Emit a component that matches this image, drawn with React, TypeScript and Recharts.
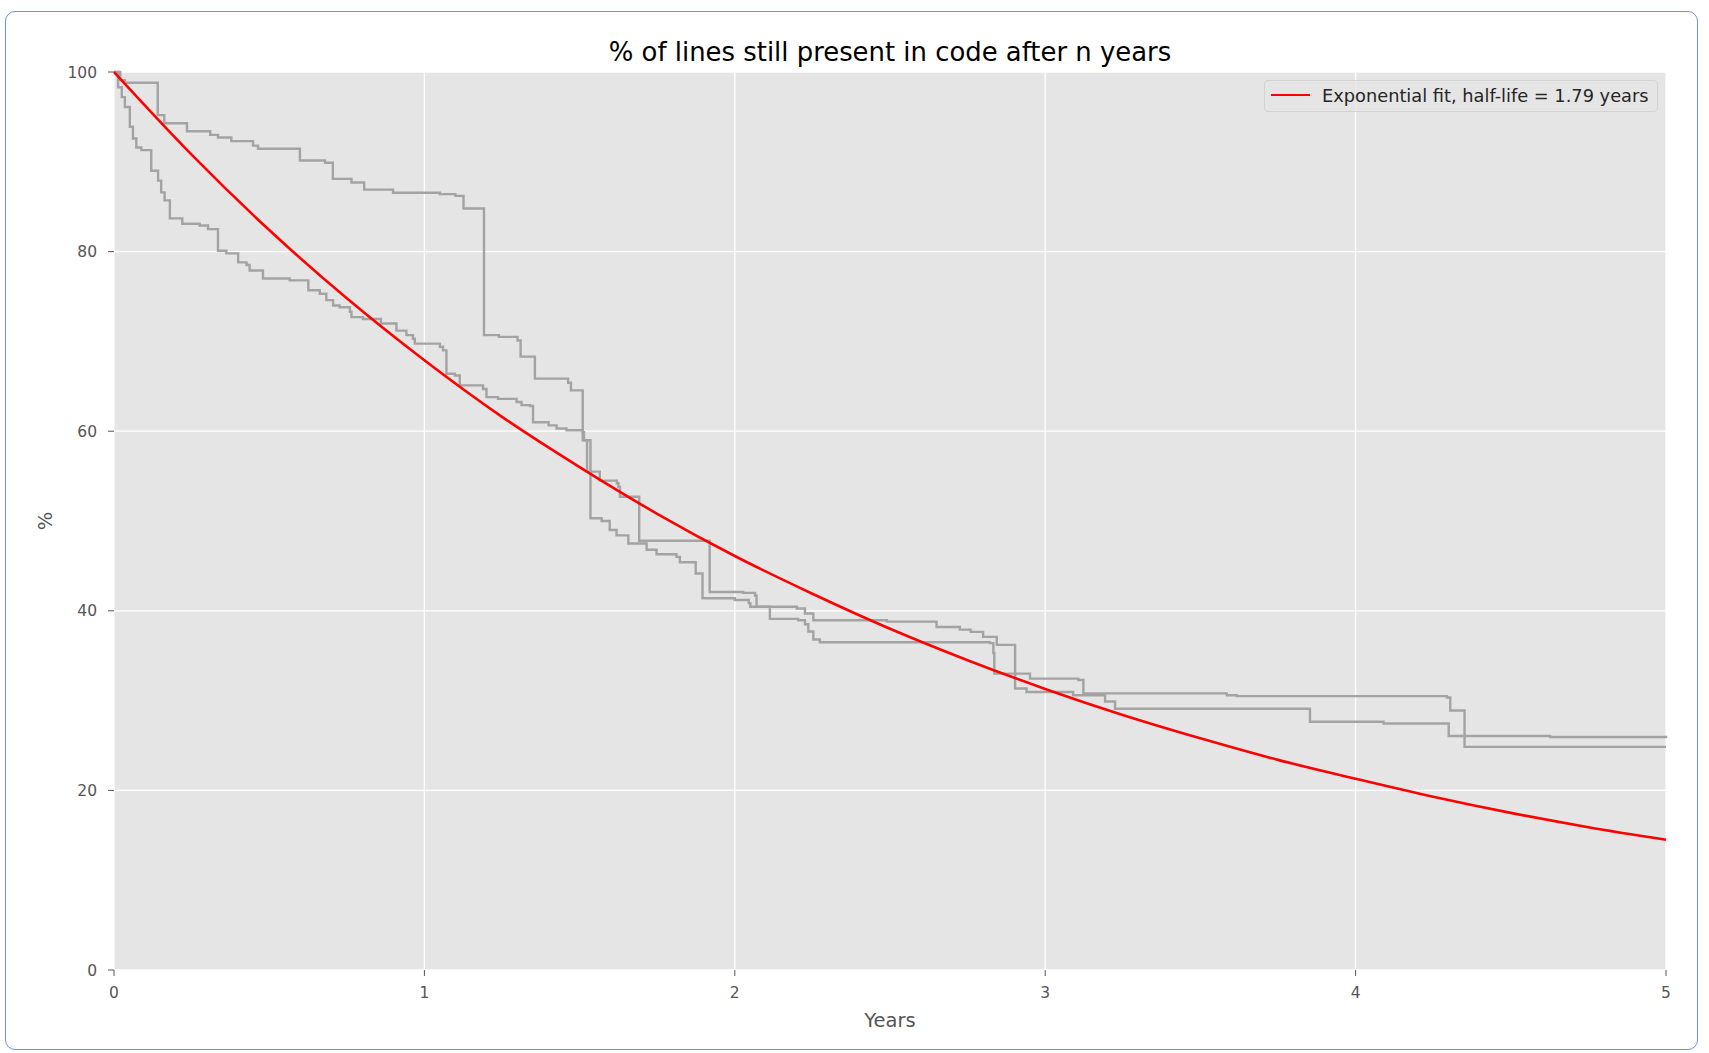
import React from 'react';
import { LineChart, Line, XAxis, YAxis, CartesianGrid, Legend, Label } from 'recharts';

const FONT = '"DejaVu Sans", sans-serif';

const xTicks = [0, 1, 2, 3, 4, 5];
const yTicks = [0, 20, 40, 60, 80, 100];

// first project: years since commit -> % of lines still there
const repoAYears = [
  0, 0.02, 0.035, 0.141, 0.162, 0.235, 0.31, 0.335, 0.378, 0.448, 0.464, 0.599, 0.68, 0.705, 0.765,
  0.806, 0.899, 1.05, 1.1, 1.126, 1.192, 1.24, 1.3, 1.31, 1.356, 1.463, 1.472, 1.51, 1.524, 1.565,
  1.62, 1.625, 1.63, 1.692, 1.919, 2.027, 2.065, 2.07, 2.2, 2.226, 2.253, 2.49, 2.65, 2.725, 2.76,
  2.8, 2.844, 2.903, 2.94, 3.09, 3.193, 3.225, 3.853, 4.09, 4.3, 4.627, 5.0,
];
const repoAPct = [
  100, 99.1, 98.8, 95.2, 94.3, 93.4, 93.0, 92.7, 92.3, 91.8, 91.45, 90.15, 89.9, 88.1, 87.7,
  86.9, 86.55, 86.4, 86.2, 84.8, 70.7, 70.5, 70.1, 68.3, 65.85, 65.4, 64.55, 59.0, 55.5, 54.5,
  54.2, 53.8, 52.7, 47.8, 42.1, 42.0, 41.7, 40.45, 40.25, 39.7, 38.95, 38.8, 38.2, 37.9, 37.65,
  37.1, 36.2, 31.35, 30.95, 30.6, 29.9, 29.1, 27.65, 27.45, 26.05, 25.95, 25.8,
];

// second project
const repoBYears = [
  0, 0.013, 0.025, 0.035, 0.051, 0.061, 0.072, 0.088, 0.12, 0.142, 0.152, 0.163, 0.18, 0.22, 0.276,
  0.303, 0.335, 0.362, 0.4, 0.427, 0.437, 0.48, 0.566, 0.626, 0.663, 0.684, 0.706, 0.727, 0.76, 0.765,
  0.802, 0.86, 0.91, 0.942, 0.963, 0.969, 1.05, 1.06, 1.071, 1.098, 1.114, 1.189, 1.2, 1.237, 1.297,
  1.313, 1.34, 1.35, 1.4, 1.426, 1.458, 1.51, 1.514, 1.535, 1.571, 1.597, 1.619, 1.657, 1.716, 1.748,
  1.812, 1.823, 1.874, 1.896, 2.0, 2.045, 2.05, 2.113, 2.204, 2.226, 2.237, 2.253, 2.274, 2.822, 2.833,
  2.836, 2.951, 3.107, 3.123, 3.585, 3.617, 4.294, 4.305, 4.351, 5.0,
];
const repoBPct = [
  100, 98.3, 97.2, 96.1, 93.9, 92.6, 91.6, 91.3, 89.0, 87.9, 86.6, 85.7, 83.7, 83.1, 82.9,
  82.5, 80.1, 79.8, 78.8, 78.5, 77.9, 77.0, 76.8, 75.7, 75.3, 74.6, 74.0, 73.8, 73.3, 72.7,
  72.5, 72.0, 71.2, 70.7, 70.3, 69.75, 69.4, 69.0, 66.4, 66.2, 65.1, 64.7, 63.8, 63.6, 63.25,
  62.9, 62.8, 61.0, 60.65, 60.3, 60.1, 59.9, 59.0, 50.3, 50.0, 49.0, 48.4, 47.5, 46.8, 46.3,
  46.0, 45.4, 44.15, 41.4, 41.2, 40.85, 40.45, 39.1, 38.95, 38.5, 37.7, 36.8, 36.5, 36.4, 35.3,
  33.0, 32.45, 32.3, 30.8, 30.6, 30.5, 30.35, 28.9, 24.85, 24.85,
];

// red fitted curve, every quarter year
const fitYears = [0, 0.25, 0.5, 0.75, 1, 1.25, 1.5, 1.75, 2, 2.25, 2.5, 2.75, 3, 3.25, 3.5, 3.75, 4, 4.25, 4.5, 4.75, 5];
const fitPct = [100, 90.8, 82.4, 74.8, 67.9, 61.6, 56.0, 50.8, 46.1, 41.9, 38.0, 34.5, 31.3, 28.4, 25.8, 23.4, 21.3, 19.3, 17.5, 15.9, 14.5];

const fitLabel = 'Exponential fit, half-life = 1.79 years';

const zip = (years: number[], pct: number[]) => years.map((y, i) => ({ years: y, pct: pct[i] }));

const seriesA = zip(repoAYears, repoAPct);
const seriesB = zip(repoBYears, repoBPct);
const fitSeries = zip(fitYears, fitPct);

function FitLegend() {
  return (
    <div
      style={{
        width: 394,
        height: 32,
        boxSizing: 'border-box',
        border: '1px solid #d2d2d2',
        borderRadius: 4,
        background: 'rgba(229,229,229,0.8)',
        display: 'flex',
        alignItems: 'center',
        fontFamily: FONT,
        fontSize: 17.8,
        color: '#262626',
        whiteSpace: 'nowrap',
        paddingBottom: 2,
      }}
    >
      <span style={{ display: 'inline-block', width: 39, borderTop: '2.5px solid #ff0000', margin: '0 12px 0 6px' }} />
      <span>{fitLabel}</span>
    </div>
  );
}

export default function App() {
  return (
    <div style={{ position: 'absolute', left: 0, top: 0, width: 1709, height: 1053, background: '#fff', fontFamily: FONT }}>
      <div
        style={{
          position: 'absolute', left: 5, top: 11, width: 1693, height: 1039,
          border: '1.5px solid #7096d2', borderRadius: 10, boxSizing: 'border-box',
        }}
      />
      <div
        style={{
          position: 'absolute', left: 114, width: 1552, top: 37, textAlign: 'center',
          fontSize: 25.9, lineHeight: '30px', color: '#000',
        }}
      >
        % of lines still present in code after n years
      </div>
      <div style={{ position: 'absolute', left: 0, top: 0 }}>
        <LineChart width={1709} height={1053} margin={{ top: 72, right: 43, bottom: 23, left: 54 }}>
          <CartesianGrid fill="#e5e5e5" stroke="#ffffff" strokeWidth={1.3} />
          <XAxis
            type="number"
            dataKey="years"
            domain={[0, 5]}
            ticks={xTicks}
            interval={0}
            height={60}
            axisLine={false}
            tickLine={{ stroke: '#555555' }}
            tickSize={6}
            tickMargin={11}
            tick={{ fill: '#555555', fontSize: 15.5, fontFamily: FONT }}
          >
            <Label value="Years" position="insideBottom" offset={3} fill="#555555" fontSize={19.5} fontFamily={FONT} />
          </XAxis>
          <YAxis
            type="number"
            domain={[0, 100]}
            ticks={yTicks}
            interval={0}
            width={60}
            axisLine={false}
            tickLine={{ stroke: '#555555' }}
            tickSize={6}
            tickMargin={11}
            tick={{ fill: '#555555', fontSize: 15.5, fontFamily: FONT }}
          >
            <Label
              value="%"
              angle={-90}
              position="insideLeft"
              offset={-9}
              fill="#555555"
              fontSize={19.5}
              fontFamily={FONT}
              style={{ textAnchor: 'middle' }}
            />
          </YAxis>
          <Legend
            layout="horizontal"
            verticalAlign="middle"
            align="center"
            content={<FitLegend />}
            wrapperStyle={{ left: 1264, top: 80, width: 394, height: 32 }}
          />
          <Line data={seriesA} dataKey="pct" name="repo A" type="stepAfter" stroke="#a3a3a3" strokeWidth={2.4} dot={false} activeDot={false} legendType="none" isAnimationActive={false} />
          <Line data={seriesB} dataKey="pct" name="repo B" type="stepAfter" stroke="#a3a3a3" strokeWidth={2.4} dot={false} activeDot={false} legendType="none" isAnimationActive={false} />
          <Line data={fitSeries} dataKey="pct" name={fitLabel} type="monotone" stroke="#ff0000" strokeWidth={2.6} dot={false} activeDot={false} isAnimationActive={false} />
        </LineChart>
      </div>
    </div>
  );
}
